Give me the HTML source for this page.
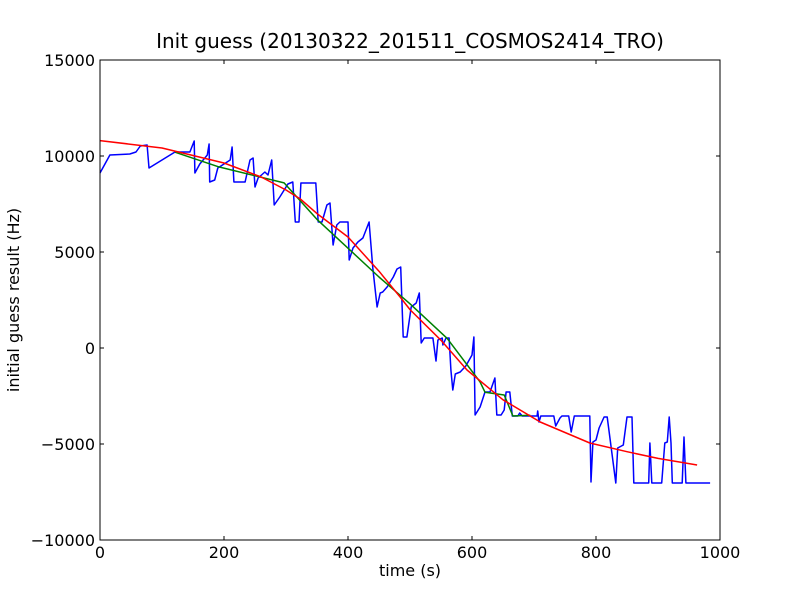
<!DOCTYPE html>
<html><head><meta charset="utf-8"><style>
html,body{margin:0;padding:0;background:#fff;}
svg{display:block;font-family:"DejaVu Sans","Liberation Sans",sans-serif;}
</style></head><body>
<svg id="chart" width="800" height="600" viewBox="0 0 800 600">
<rect x="0" y="0" width="800" height="600" fill="#fff"/>
<text x="410" y="48" text-anchor="middle" font-size="20">Init guess (20130322_201511_COSMOS2414_TRO)</text>
<g id="plot"></g>
<g id="axes"></g>
<text x="410" y="576" text-anchor="middle" font-size="16">time (s)</text>
<text transform="translate(19,300) rotate(-90)" text-anchor="middle" font-size="16">initial guess result (Hz)</text>
</svg>
<script>
const xTicks=[0,200,400,600,800,1000];
const yTicks=[-10000,-5000,0,5000,10000,15000];
const yTickLabels=["\u221210000","\u22125000","0","5000","10000","15000"];
const blueT=[0,16,48,58,65,76,79,121,145,152,153,161,173,176,177,185,190,210,213,216,234,242,247,250,255,266,271,277,281,290,303,311,315,321,324,348,352,358,366,371,376,382,387,400,402,408,416,424,434,440,447,452,456,463,473,479,485,489,495,502,510,515,518,523,537,542,545,552,553,558,563,566,569,573,581,590,600,603,605,613,621,629,637,640,647,652,655,661,665,674,677,681,705,706,708,711,732,735,742,745,756,760,765,790,792,795,800,805,813,818,832,835,844,850,858,861,885,887,890,906,911,915,918,921,923,939,942,945,984];
const blueHz=[9115,10052,10104,10208,10521,10573,9375,10208,10208,10781,9115,9583,10052,10625,8646,8750,9375,9792,10469,8646,8646,9792,9896,8385,8854,9167,9010,9792,7448,7865,8542,8646,6563,6563,8594,8594,6563,6563,7448,7552,5365,6406,6563,6563,4583,5208,5521,5729,6563,4167,2135,2865,2917,3177,3698,4115,4219,573,573,2135,2344,2865,260,521,521,-677,417,521,156,521,521,-1146,-2188,-1354,-1250,-938,-365,573,-3490,-3073,-2292,-2292,-1563,-3490,-3490,-3229,-2292,-2292,-3542,-3542,-3385,-3542,-3542,-3281,-3854,-3542,-3542,-4063,-3646,-3542,-3542,-4375,-3542,-3542,-6979,-4896,-4792,-4167,-3594,-3594,-7031,-5208,-5052,-3594,-3594,-7031,-7031,-4948,-7031,-7031,-4948,-4896,-3594,-4948,-7031,-7031,-4635,-7031,-7031];
const greenT=[121,190,297,350,400,450,500,560,613,621,652,666,694];
const greenHz=[10200,9450,8600,6700,5200,3700,2300,500,-1770,-2300,-2450,-3540,-3500];
const redT=[0,100,200,260,300,323,350,400,450,484,500,550,592,650,710,790,850,900,963];
const redHz=[10800,10417,9635,8906,8229,7760,7000,5781,4000,2656,2000,400,-1146,-2700,-3854,-4948,-5400,-5750,-6094];

const X0=100,X1=720,Y0=540,Y1=60;
function sx(t){return X0+(t-0)/(1000-0)*(X1-X0);}
function sy(v){return Y0-(v-(-10000))/(15000-(-10000))*(Y0-Y1);}
const NS="http://www.w3.org/2000/svg";
const plot=document.getElementById('plot');
const axes=document.getElementById('axes');
function line(ts,vs,color,name){
  const p=document.createElementNS(NS,'polyline');
  p.setAttribute('points',ts.map((t,i)=>sx(t).toFixed(1)+','+sy(vs[i]).toFixed(1)).join(' '));
  p.setAttribute('fill','none');p.setAttribute('stroke',color);p.setAttribute('stroke-width','1.5');
  p.setAttribute('stroke-linejoin','round');
  
  
  plot.appendChild(p);
}
line(blueT,blueHz,'#0000ff','series-measured');
line(greenT,greenHz,'#008000','series-green');
line(redT,redHz,'#ff0000','series-fit');
const frame=document.createElementNS(NS,'rect');
frame.setAttribute('x',X0);frame.setAttribute('y',Y1);frame.setAttribute('width',X1-X0);frame.setAttribute('height',Y0-Y1);
frame.setAttribute('fill','none');frame.setAttribute('stroke','#000');frame.setAttribute('stroke-width','1');


axes.appendChild(frame);
xTicks.forEach(t=>{
  const x=sx(t);
  [[Y0,Y0-4],[Y1,Y1+4]].forEach(([a,b])=>{
    const l=document.createElementNS(NS,'line');
    l.setAttribute('x1',x);l.setAttribute('x2',x);l.setAttribute('y1',a);l.setAttribute('y2',b);l.setAttribute('stroke','#000');
    
    
    axes.appendChild(l);
  });
  const tx=document.createElementNS(NS,'text');
  tx.setAttribute('x',x);tx.setAttribute('y',Y0+18);tx.setAttribute('text-anchor','middle');tx.setAttribute('font-size','16');
  tx.textContent=String(t);
  
  
  axes.appendChild(tx);
});
yTicks.forEach((v,i)=>{
  const y=sy(v);
  [[X0,X0+4],[X1,X1-4]].forEach(([a,b])=>{
    const l=document.createElementNS(NS,'line');
    l.setAttribute('x1',a);l.setAttribute('x2',b);l.setAttribute('y1',y);l.setAttribute('y2',y);l.setAttribute('stroke','#000');
    
    
    axes.appendChild(l);
  });
  const tx=document.createElementNS(NS,'text');
  tx.setAttribute('x',X0-5);tx.setAttribute('y',y+6);tx.setAttribute('text-anchor','end');tx.setAttribute('font-size','16');
  tx.textContent=yTickLabels[i];
  
  
  axes.appendChild(tx);
});
</script>
</body></html>
